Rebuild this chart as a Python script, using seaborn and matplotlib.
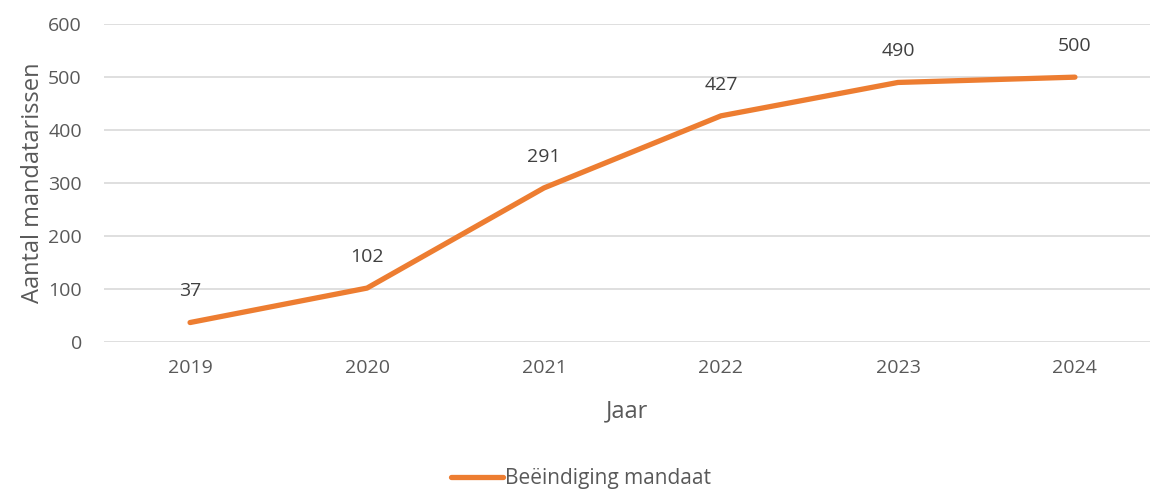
import seaborn as sns
import matplotlib.pyplot as plt
import pandas as pd

sns.set_theme(style='white')
plt.rcParams['font.family'] = ['Open Sans', 'DejaVu Sans']

years = ['2019', '2020', '2021', '2022', '2023', '2024']
mandates_ended = [37, 102, 291, 427, 490, 500]
series_name = 'Beëindiging mandaat'

GREY = '#595959'
ORANGE = '#ED7D31'


def main():
    df = pd.DataFrame({'Jaar': years, 'value': mandates_ended})

    fig = plt.figure(figsize=(11.51, 4.93), dpi=100)
    ax = fig.add_axes([0.0904, 0.306, 0.9087, 0.645])

    sns.lineplot(ax=ax, data=df, x='Jaar', y='value', color=ORANGE,
                 linewidth=3.8, solid_capstyle='round', label=series_name,
                 legend=False, sort=False)

    for i, v in enumerate(mandates_ended):
        ax.annotate(str(v), (i, v), xytext=(0, 16), textcoords='offset points',
                    ha='center', va='bottom', fontsize=14, color='#404040')

    ax.set_ylim(0, 600)
    ax.set_yticks(range(0, 601, 100))
    ax.set_xlim(-0.486, 5.424)
    ax.yaxis.grid(True, color='#d9d9d9', linewidth=1.2)
    ax.set_axisbelow(True)
    sns.despine(ax=ax, left=True, bottom=True)
    ax.tick_params(axis='both', length=0, labelsize=14, labelcolor=GREY)
    ax.tick_params(axis='x', pad=12)
    ax.tick_params(axis='y', pad=16)
    ax.set_xlabel('Jaar', fontsize=17, color=GREY, labelpad=16)
    ax.set_ylabel('Aantal mandatarissen', fontsize=17, color=GREY, labelpad=2)

    handles, labels = ax.get_legend_handles_labels()
    fig.legend(handles, labels, loc='lower center', bbox_to_anchor=(0.505, -0.03),
               frameon=False, fontsize=15, labelcolor=GREY, handlelength=2.5,
               handletextpad=0.1)

    fig.savefig('out.png', dpi=100)


if __name__ == '__main__':
    main()
